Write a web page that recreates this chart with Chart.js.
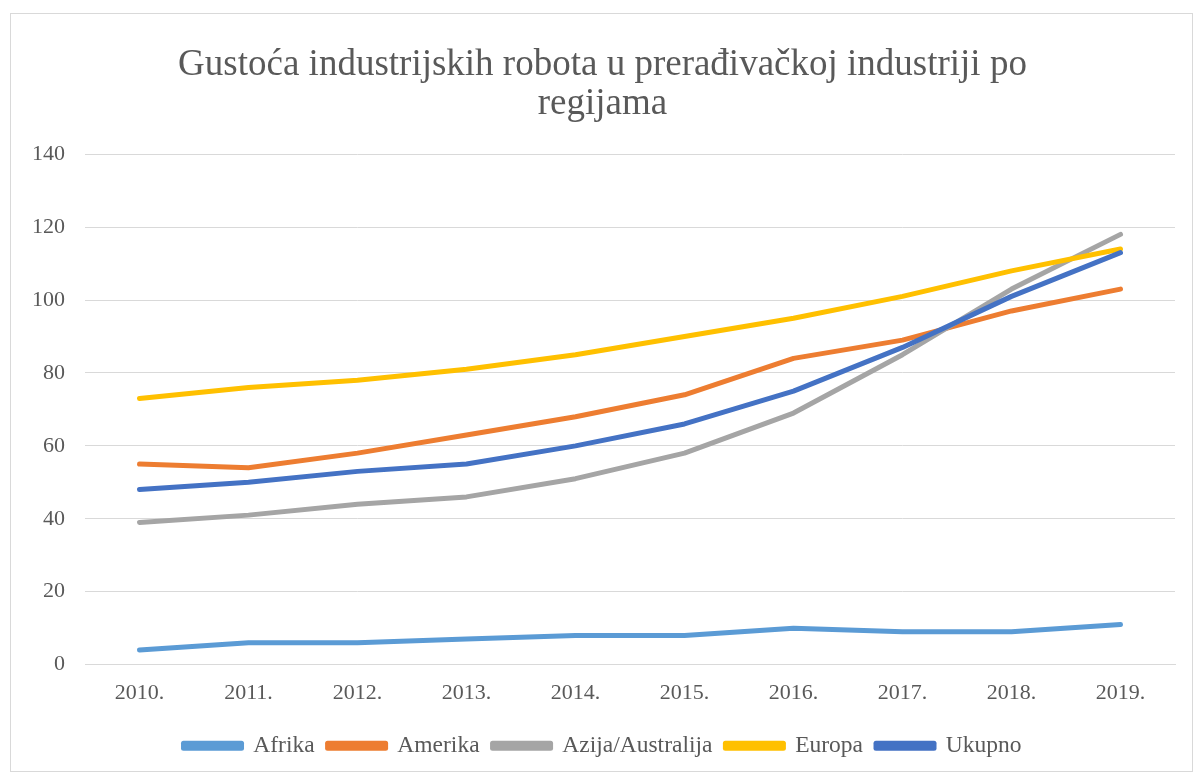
<!DOCTYPE html>
<html>
<head>
<meta charset="utf-8">
<script src="https://cdn.jsdelivr.net/npm/chart.js@4"></script>
<style>
  body { margin: 0; background: #fff; }
  #wrap { width: 1195px; height: 774px; }
</style>
</head>
<body>
<div id="wrap"><canvas id="robots" width="1195" height="774"></canvas></div>
<script>
const years = ["2010.", "2011.", "2012.", "2013.", "2014.", "2015.", "2016.", "2017.", "2018.", "2019."];
const afrika = [4, 6, 6, 7, 8, 8, 10, 9, 9, 11];
const amerika = [55, 54, 58, 63, 68, 74, 84, 89, 97, 103];
const azija = [39, 41, 44, 46, 51, 58, 69, 85, 103, 118];
const europa = [73, 76, 78, 81, 85, 90, 95, 101, 108, 114];
const ukupno = [48, 50, 53, 55, 60, 66, 75, 87, 101, 113];

const textColor = "#595959";
const gridColor = "#d9d9d9";
const serif = "'Liberation Serif', 'Times New Roman', serif";

function line(label, data, color, order) {
  return {
    label: label,
    data: data,
    borderColor: color,
    backgroundColor: color,
    borderWidth: 5,
    borderCapStyle: "round",
    borderJoinStyle: "round",
    pointRadius: 0,
    tension: 0,
    order: order,
  };
}

// outer frame like the Excel chart area
const frame = {
  id: "frame",
  beforeDraw(chart) {
    const c = chart.ctx;
    c.save();
    c.fillStyle = "#fff";
    c.fillRect(0, 0, chart.width, chart.height);
    c.strokeStyle = gridColor;
    c.lineWidth = 1;
    c.strokeRect(10.5, 13.5, 1182, 758);
    c.restore();
  },
};

document.addEventListener("DOMContentLoaded", () => {
  const ctx = document.getElementById("robots").getContext("2d");

  new Chart(ctx, {
    type: "line",
    data: {
      labels: years,
      datasets: [
        line("Afrika", afrika, "#5B9BD5", 5),
        line("Amerika", amerika, "#ED7D31", 4),
        line("Azija/Australija", azija, "#A5A5A5", 3),
        line("Europa", europa, "#FFC000", 2),
        line("Ukupno", ukupno, "#4472C4", 1),
      ],
    },
    options: {
      responsive: false,
      animation: false,
      layout: { padding: { left: 30, right: 20, top: 20, bottom: 6.5 } },
      plugins: {
        title: {
          display: true,
          text: ["Gustoća industrijskih robota u prerađivačkoj industriji po", "regijama"],
          color: textColor,
          font: { family: serif, size: 37, weight: "normal", lineHeight: 1.07 },
          padding: { top: 25, bottom: 30 },
        },
        legend: {
          position: "bottom",
          labels: {
            color: textColor,
            font: { family: serif, size: 23.5 },
            boxWidth: 58,
            boxHeight: 5,
            padding: 13,
            sort: (a, b) => a.datasetIndex - b.datasetIndex,
          },
        },
        tooltip: { enabled: false },
      },
      scales: {
        x: {
          offset: true,
          grid: { display: false, drawTicks: false },
          border: { color: gridColor, width: 1 },
          ticks: { color: textColor, font: { family: serif, size: 22 }, padding: 15 },
        },
        y: {
          min: 0,
          max: 140,
          grid: { color: gridColor, lineWidth: 1, drawTicks: false },
          border: { display: false },
          ticks: { stepSize: 20, color: textColor, font: { family: serif, size: 22 }, padding: 20 },
          // fix the axis box so the plot starts where the Excel one does
          afterFit: (scale) => { scale.width = 55; },
        },
      },
    },
    plugins: [frame],
  });
});
</script>
</body>
</html>
